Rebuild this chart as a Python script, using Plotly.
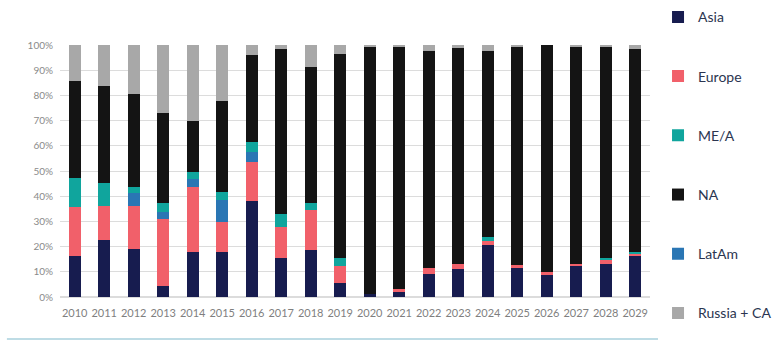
import plotly.graph_objects as go

years = [str(y) for y in range(2010, 2030)]

# regional shares, percent of each year's total
asia = [16.3, 22.5, 19.2, 4.2, 17.9, 17.9, 38.0, 15.5, 18.5, 5.6,
        1.0, 2.0, 9.3, 11.3, 20.5, 11.9, 8.6, 12.2, 13.2, 16.2]
europe = [19.5, 13.7, 17.0, 26.7, 25.8, 11.9, 15.6, 12.3, 15.9, 6.7,
          0.0, 1.3, 2.4, 1.9, 1.8, 0.7, 1.3, 1.0, 1.4, 0.8]
latam = [0.0, 0.0, 4.9, 2.9, 3.3, 8.6, 4.0, 0.0, 0.0, 0.0,
         0.0, 0.0, 0.0, 0.0, 0.0, 0.0, 0.0, 0.0, 0.0, 0.0]
mea = [11.5, 9.1, 2.6, 3.7, 2.7, 3.3, 4.0, 5.0, 3.1, 3.2,
       0.0, 0.0, 0.0, 0.0, 1.5, 0.0, 0.0, 0.0, 0.9, 0.9]
north_america = [38.5, 38.4, 36.7, 35.6, 20.2, 36.2, 34.4, 65.5, 53.9, 80.9,
                 98.1, 96.0, 86.0, 85.5, 73.9, 86.5, 90.1, 86.4, 83.8, 80.4]
russia_ca = [14.2, 16.3, 19.6, 26.9, 30.1, 22.1, 4.0, 1.7, 8.6, 3.6,
             0.9, 0.7, 2.3, 1.3, 2.3, 0.9, 0.0, 0.4, 0.7, 1.7]

y_ticks = list(range(0, 101, 10))
y_tick_labels = [f"{v}%" for v in y_ticks]

# stacking order bottom -> top; each series gets its own legend box,
# listed in the legend column as: Asia, Europe, ME/A, NA, LatAm, Russia + CA
series = [
    ("Asia", asia, "#171c4f", 0),
    ("Europe", europe, "#f1606a", 1),
    ("LatAm", latam, "#2a76b4", 4),
    ("ME/A", mea, "#10a59d", 2),
    ("NA", north_america, "#141414", 3),
    ("Russia + CA", russia_ca, "#a8a8a8", 5),
]

legend_font = dict(size=14, color="#2b3550", family="Lato, sans-serif")
legend_top = 1.11     # paper y of the first legend row
legend_step = 0.235   # paper distance between rows

fig = go.Figure()
legend_layout = {}
for name, vals, color, slot in series:
    key = "legend" if slot == 0 else f"legend{slot + 1}"
    fig.add_trace(go.Bar(
        x=years, y=vals, name=name,
        marker=dict(color=color, line=dict(width=0)),
        legend=key,
    ))
    legend_layout[key] = dict(
        x=1.0136, y=legend_top - slot * legend_step,
        xanchor="left", yanchor="middle",
        font=legend_font, bgcolor="rgba(0,0,0,0)",
    )

fig.update_layout(
    width=782, height=340,
    margin=dict(l=60, r=132, t=45, b=43, autoexpand=False),
    barmode="stack", bargap=0.59,
    plot_bgcolor="white", paper_bgcolor="white",
    font=dict(family="Lato, sans-serif"),
    showlegend=True,
    xaxis=dict(
        type="category", showgrid=False, showline=False, ticks="",
        tickfont=dict(size=11, color="#7f7f7f"),
        ticklabelstandoff=8,
    ),
    yaxis=dict(
        range=[0, 100], tickvals=y_ticks, ticktext=y_tick_labels,
        showgrid=True, gridcolor="#dcdcdc", gridwidth=1,
        zeroline=True, zerolinecolor="#dcdcdc", showline=False, ticks="",
        tickfont=dict(size=10, color="#8a8a8a"),
        ticklabelstandoff=6,
    ),
    shapes=[dict(
        type="line", xref="paper", yref="paper",
        x0=-0.09, x1=1.0136, y0=-0.167, y1=-0.167,
        line=dict(color="#a9d0dd", width=1.5),
    )],
    **legend_layout,
)

fig.write_html("out.html")
